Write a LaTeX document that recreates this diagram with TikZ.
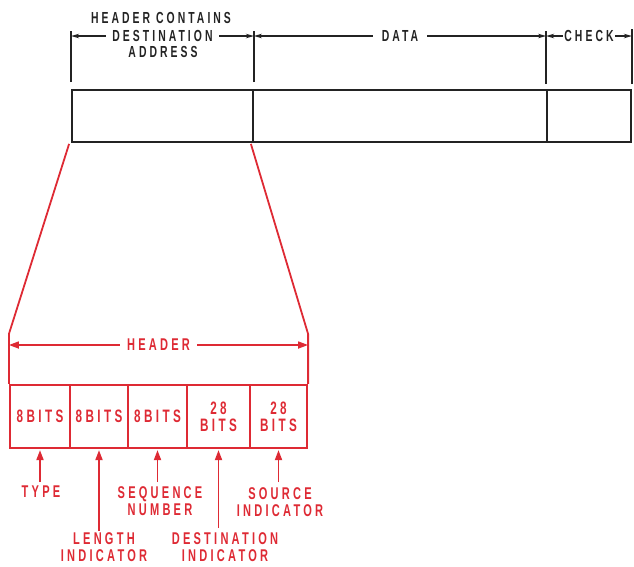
\documentclass[tikz,border=0pt]{standalone}
\usepackage{fontspec}
\setmainfont{Liberation Sans}
\newfontfamily\lettering{Liberation Sans}[LetterSpace=19,FakeStretch=0.65]
\usetikzlibrary{arrows.meta}
\definecolor{ink}{RGB}{35,35,35}
\definecolor{redink}{RGB}{222,42,52}
\begin{document}
\begin{tikzpicture}[x=1pt,y=-1pt,
  topcell/.style={draw=ink, line width=1.8pt, minimum height=52pt, inner sep=0pt},
  ext/.style={draw=ink, line width=1.3pt},
  dim/.style={draw=ink, line width=1.3pt, {Stealth[length=8pt,width=4.5pt]}-{Stealth[length=8pt,width=4.5pt]}},
  toplbl/.style={text=ink, font=\lettering\bfseries\fontsize{16}{17}\selectfont, align=center, inner sep=1pt},
  bitcell/.style={draw=redink, line width=2.2pt, minimum height=63pt, inner sep=0pt, text=redink,
     font=\lettering\bfseries\fontsize{18}{17}\selectfont, align=center},
  redline/.style={draw=redink, line width=1.8pt, line join=round},
  redarrow/.style={draw=redink, line width=1.6pt, {Triangle[length=10pt,width=7pt]}-{Triangle[length=10pt,width=7pt]}},
  uparrow/.style={draw=redink, line width=1.8pt, -{Triangle[length=10pt,width=7pt]}},
  lbl/.style={text=redink, font=\lettering\bfseries\fontsize{17}{16.5}\selectfont, align=center, inner sep=2pt}
]
\useasboundingbox (0,0) rectangle (634,566);

% top frame
\node[topcell, minimum width=181pt] (hdr) at (162.5,116) {};
\node[topcell, minimum width=294pt] (dat) at (400,116) {};
\node[topcell, minimum width=84pt] (chk) at (589,116) {};

% extension lines
\draw[ext] ([yshift=7pt]hdr.north west) -- (hdr.north west |- 0,31);
\draw[ext] ([yshift=7pt]hdr.north east) -- (hdr.north east |- 0,31);
\draw[ext] ([yshift=5pt]chk.north west) -- (chk.north west |- 0,31);
\draw[ext] ([yshift=5pt]chk.north east) -- (chk.north east |- 0,29);

\coordinate (d0) at (hdr.north west |- 0,36);
\coordinate (d1) at (hdr.north east |- 0,36);
\coordinate (d2) at (chk.north west |- 0,36);
\coordinate (d3) at (chk.north east |- 0,36);

\draw[dim] (d0) -- (d1) node[midway, fill=white, toplbl, inner xsep=6pt] (dest) {DESTINATION};
\node[toplbl] (hc) at (161,18) {HEADER CONTAINS};
\node[toplbl] (addr) at (163,52) {ADDRESS};
\draw[dim] (d1) -- (d2) node[midway, fill=white, toplbl, inner xsep=9pt] (datal) {DATA};
\draw[dim] (d2) -- (d3) node[midway, fill=white, toplbl, inner xsep=1.5pt] (chkl) {CHECK};

% header breakdown
\node[bitcell, minimum width=60pt] (b1) at (40,416.5) {8BITS};
\node[bitcell, minimum width=58pt] (b2) at (99,416.5) {8BITS};
\node[bitcell, minimum width=59pt] (b3) at (157.5,416.5) {8BITS};
\node[bitcell, minimum width=63pt] (b4) at (218.5,416.5) {28\\BITS};
\node[bitcell, minimum width=57pt] (b5) at (278.5,416.5) {28\\BITS};

\draw[redline] ([xshift=-2pt,yshift=-1pt]hdr.south west) -- (b1.north west |- 0,334) -- (b1.north west);
\draw[redline] ([xshift=-3pt,yshift=-1pt]hdr.south east) -- (b5.north east |- 0,334) -- (b5.north east);

\coordinate (h0) at (b1.north west |- 0,345);
\coordinate (h1) at (b5.north east |- 0,345);
\draw[redarrow] (h0) -- (h1) node[midway, fill=white, lbl, inner xsep=7pt] (hl) {HEADER};

% labels
\node[lbl] (type) at (41,492) {TYPE};
\node[lbl] (len) at (104,547) {LENGTH\\INDICATOR};
\node[lbl] (seq) at (160,501) {SEQUENCE\\NUMBER};
\node[lbl] (dst) at (225,547) {DESTINATION\\INDICATOR};
\node[lbl] (src) at (280,502) {SOURCE\\INDICATOR};

\draw[uparrow] (b1.south |- 0,482) -- ([yshift=-1pt]b1.south);
\draw[uparrow] (b2.south |- 0,531) -- ([yshift=-1pt]b2.south);
\draw[uparrow] (b3.south |- 0,482) -- ([yshift=-1pt]b3.south);
\draw[uparrow] (b4.south |- 0,528) -- ([yshift=-1pt]b4.south);
\draw[uparrow] (b5.south |- 0,482) -- ([yshift=-1pt]b5.south);
\end{tikzpicture}
\end{document}
